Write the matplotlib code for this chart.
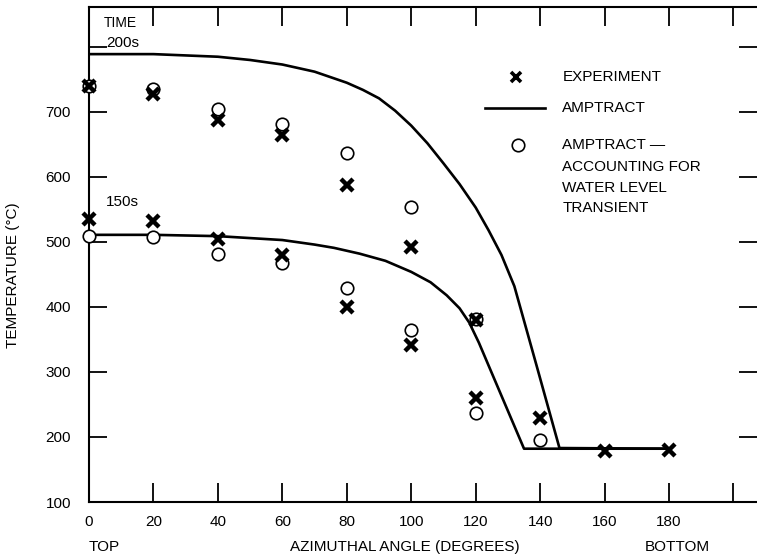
import numpy as np
import matplotlib
matplotlib.use("Agg")
import matplotlib.pyplot as plt
from matplotlib.lines import Line2D

plt.rcParams["font.family"] = ["Liberation Sans", "DejaVu Sans"]

# AMPTRACT CURVES
curve_200_deg = [0, 20, 30, 40, 50, 60, 70, 80, 85, 90, 95, 100, 105, 110, 115, 120, 124, 128, 132, 139, 146, 180]
curve_200_temp = [789, 789, 787, 785, 780, 773, 762, 745, 734, 721, 702, 679, 652, 621, 589, 553, 518, 480, 432, 308, 183, 182]
curve_150_deg = [0, 20, 40, 60, 70, 76, 84, 92, 100, 106, 111, 115, 118, 121, 124, 129.5, 135, 180]
curve_150_temp = [511, 511, 509, 503, 496, 491, 482, 471, 454, 438, 418, 398, 376, 345, 310, 246, 182, 182]

# EXPERIMENT (X MARKS)
exp_200_deg = [0, 20, 40, 60, 80, 100, 120, 140, 160, 180]
exp_200_temp = [740, 728, 687, 665, 588, 493, 380, 229, 178, 180]
exp_150_deg = [0, 20, 40, 60, 80, 100, 120]
exp_150_temp = [536, 532, 504, 480, 400, 342, 260]

# AMPTRACT ACCOUNTING FOR WATER LEVEL (CIRCLES)
wl_200_deg = [0, 20, 40, 60, 80, 100, 120, 140]
wl_200_temp = [740, 735, 704, 681, 637, 554, 382, 195]
wl_150_deg = [0, 20, 40, 60, 80, 100, 120]
wl_150_temp = [509, 507, 482, 467, 429, 365, 237]

x_ticks = [0, 20, 40, 60, 80, 100, 120, 140, 160, 180, 200]
x_labels = ["0", "20", "40", "60", "80", "100", "120", "140", "160", "180", ""]
y_ticks = [100, 200, 300, 400, 500, 600, 700, 800]
y_labels = ["100", "200", "300", "400", "500", "600", "700", ""]

W, H = 757, 556
fig = plt.figure(figsize=(W / 100, H / 100), dpi=100)
ax = fig.add_axes([89 / W, (H - 502) / H, (W - 89) / W, (502 - 7) / H])

ax.plot(curve_200_deg, curve_200_temp, color="black", lw=1.9, solid_joinstyle="round", zorder=2)
ax.plot(curve_150_deg, curve_150_temp, color="black", lw=1.9, solid_joinstyle="round", zorder=2)

circ = dict(marker="o", ms=9, mfc="white", mec="black", mew=1.2, ls="none", zorder=3, clip_on=False)
ax.plot(wl_200_deg, wl_200_temp, **circ)
ax.plot(wl_150_deg, wl_150_temp, **circ)

cross = dict(marker="x", ms=9, mec="black", mew=3.2, ls="none", zorder=4, clip_on=False)
ax.plot(exp_200_deg, exp_200_temp, **cross)
ax.plot(exp_150_deg, exp_150_temp, **cross)

ax.set_xlim(0, 207.3)
ax.set_ylim(100, 861.5)
ax.set_xticks(x_ticks)
ax.set_xticklabels(x_labels)
ax.set_yticks(y_ticks)
ax.set_yticklabels(y_labels)
ax.tick_params(axis="both", direction="in", length=14, width=1.3, labelsize=11,
               top=True, right=True)
ax.tick_params(axis="x", pad=9)
ax.tick_params(axis="y", pad=13)
ax.tick_params(axis="y", which="major", right=True, length=13)
for side in ["left", "bottom", "top"]:
    ax.spines[side].set_linewidth(1.5)
ax.spines["right"].set_visible(False)

fig.text(13 / W, 1 - 275 / H, "TEMPERATURE (°C)", fontsize=11, rotation=90, ha="center", va="center")
fig.text(89 / W, 1 - 547 / H, "TOP", fontsize=11, ha="left", va="center")
fig.text(405 / W, 1 - 547 / H, "AZIMUTHAL ANGLE (DEGREES)", fontsize=11, ha="center", va="center")
fig.text(677 / W, 1 - 547 / H, "BOTTOM", fontsize=11, ha="center", va="center")

# TIME LABELS
ax.text(4.7, 831, "TIME", fontsize=10, ha="left", va="baseline")
ax.text(5.3, 806, "200s", fontsize=11, ha="left", va="center")
ax.text(5.3, 561, "150s", fontsize=11, ha="left", va="center")

# LEGEND DRAWN BY HAND
ax.plot([132.6], [754], marker="x", ms=7, mec="black", mew=2.6, ls="none")
ax.add_line(Line2D([123, 141.6], [706, 706], color="black", lw=1.9))
ax.plot([133.2], [649], **circ)
ax.text(146.9, 754, "EXPERIMENT", fontsize=11, va="center")
ax.text(146.9, 706, "AMPTRACT", fontsize=11, va="center")
ax.text(146.9, 649, "AMPTRACT —", fontsize=11, va="center")
ax.text(146.9, 615, "ACCOUNTING FOR", fontsize=11, va="center")
ax.text(146.9, 583, "WATER LEVEL", fontsize=11, va="center")
ax.text(146.9, 552, "TRANSIENT", fontsize=11, va="center")

fig.savefig("out.png", dpi=100)
